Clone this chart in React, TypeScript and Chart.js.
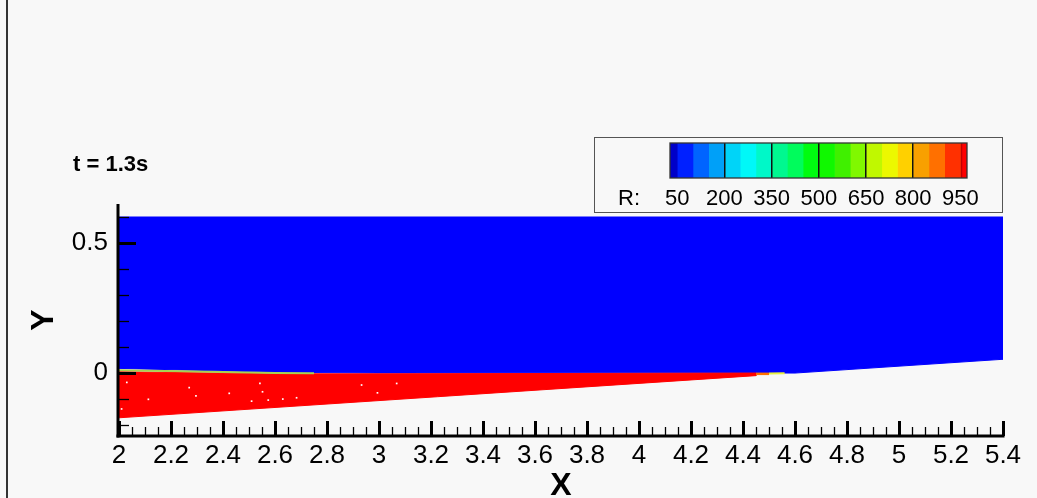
import React, { useEffect, useRef } from 'react';
import { Chart, registerables } from 'chart.js';

Chart.register(...registerables);

const FONT = "'Liberation Sans', Arial, Helvetica, sans-serif";

// Upper fluid (R ~ 50) region outline
const lightX = [2.0, 5.4, 5.4, 4.6, 4.0, 3.0, 2.6, 2.0];
const lightY = [0.6, 0.6, 0.053, 0.0, 0.001, 0.0, 0.003, 0.018];
// Lower fluid (R ~ 1000) region outline
const denseX = [2.0, 2.6, 3.0, 4.0, 4.45, 4.45, 2.0];
const denseY = [0.005, -0.003, -0.003, -0.001, 0.0, -0.0099, -0.172];
// Mixing layer along the interface
const mixX = [2.0, 2.3, 2.6, 2.75];
const mixY = [0.011, 0.006, 0.0, -0.001];
// Interface tip
const tipOrangeX = [4.45, 4.5];
const tipOrangeY = [-0.003, -0.003];
const tipYellowX = [4.5, 4.56];
const tipYellowY = [-0.002, -0.001];
// Small voids inside the dense region
const speckX = [2.03, 2.113, 2.01, 2.27, 2.296, 2.424, 2.51, 2.542, 2.552, 2.574, 2.63, 2.683, 2.933, 2.994, 3.068];
const speckY = [-0.036, -0.101, -0.138, -0.056, -0.088, -0.078, -0.108, -0.04, -0.072, -0.104, -0.1, -0.095, -0.046, -0.076, -0.04];

// Axes
const xTicks = [2, 2.2, 2.4, 2.6, 2.8, 3, 3.2, 3.4, 3.6, 3.8, 4, 4.2, 4.4, 4.6, 4.8, 5, 5.2, 5.4];
const yTicks = [0, 0.5];
const yMinorTicks = [-0.2, -0.1, 0.1, 0.2, 0.3, 0.4, 0.6];
const xRange = [2, 5.4];
const yRange = [-0.242, 0.65];

// Contour legend
const legendEdges = [27, 50, 100, 150, 200, 250, 300, 350, 400, 450, 500, 550, 600, 650, 700, 750, 800, 850, 900, 950, 955, 971];
const legendColors = [
  '#0000c8', '#0020ff', '#0064ff', '#00a0f8', '#00d4f8', '#00f8f8', '#00f8c8', '#00f890', '#00fc5c', '#00fc10',
  '#10f800', '#40f000', '#80f800', '#c0f800', '#ecf800', '#ffd000', '#f8a000', '#ff7000', '#ff3000', '#c00000', '#ff0000',
];
const legendTicks = [50, 200, 350, 500, 650, 800, 950];
const legendLines = [200, 350, 500, 650, 800];

const pts = (xs: number[], ys: number[]) => xs.map((x, i) => ({ x, y: ys[i] }));

const axesPlugin = {
  id: 'tecAxes',
  afterDatasetsDraw(chart: any) {
    const { ctx, chartArea: a, scales } = chart;
    const x = scales.x;
    const y = scales.y;
    const seg = (x1: number, y1: number, x2: number, y2: number, w: number) => {
      ctx.lineWidth = w;
      ctx.beginPath();
      ctx.moveTo(x1, y1);
      ctx.lineTo(x2, y2);
      ctx.stroke();
    };
    ctx.save();
    ctx.strokeStyle = '#000';
    ctx.lineCap = 'butt';
    for (let i = 0; i < xTicks.length - 1; i++) {
      const step = (xTicks[i + 1] - xTicks[i]) / 4;
      for (let k = 1; k < 4; k++) {
        const px = Math.round(x.getPixelForValue(xTicks[i] + k * step)) + 0.5;
        seg(px, a.bottom, px, a.bottom - 9, 1.3);
      }
    }
    xTicks.forEach((v) => {
      const px = Math.round(x.getPixelForValue(v)) + 0.5;
      seg(px, a.bottom, px, a.bottom - 15, 3);
    });
    yMinorTicks.forEach((v) => {
      const py = Math.round(y.getPixelForValue(v)) + 0.5;
      seg(a.left, py, a.left + 10, py, 1.3);
    });
    yTicks.forEach((v) => {
      const py = Math.round(y.getPixelForValue(v)) + 0.5;
      seg(a.left, py, a.left + 17, py, 3);
    });
    seg(a.left - 1, a.top, a.left - 1, a.bottom + 1.5, 3);
    seg(a.left - 2.5, a.bottom, a.right + 1.5, a.bottom, 3);
    ctx.restore();
  },
};

const outlinePlugin = {
  id: 'barOutline',
  afterDraw(chart: any) {
    const { ctx, chartArea: a } = chart;
    ctx.save();
    ctx.strokeStyle = '#333';
    ctx.lineWidth = 1.3;
    ctx.strokeRect(a.left, a.top, a.right - a.left, a.bottom - a.top);
    ctx.restore();
  },
};

export default function App() {
  const mainRef = useRef<HTMLCanvasElement>(null);
  const legRef = useRef<HTMLCanvasElement>(null);

  useEffect(() => {
    document.body.style.margin = '0';
    document.body.style.background = '#f8f8f8';
    Chart.defaults.font.family = FONT;
    Chart.defaults.color = '#000';

    const polygon = (data: any[], color: string, order: number) => ({
      type: 'line',
      data,
      borderColor: color,
      backgroundColor: color,
      borderWidth: 1,
      pointRadius: 0,
      fill: 'shape',
      tension: 0,
      order,
    });
    const strip = (data: any[], color: string, width: number, order: number) => ({
      type: 'line',
      data,
      borderColor: color,
      borderWidth: width,
      pointRadius: 0,
      fill: false,
      tension: 0,
      order,
    });

    const main = new Chart(mainRef.current as HTMLCanvasElement, {
      type: 'line',
      data: {
        datasets: [
          {
            type: 'line',
            data: pts(speckX, speckY),
            showLine: false,
            pointRadius: 1.2,
            pointStyle: 'rect',
            pointBackgroundColor: '#ffffff',
            pointBorderWidth: 0,
            order: 0,
          } as any,
          strip(pts(mixX, mixY), '#a8d050', 2, 1) as any,
          strip(pts(tipOrangeX, tipOrangeY), '#ff7000', 2.5, 1) as any,
          strip(pts(tipYellowX, tipYellowY), '#e8f040', 2, 1) as any,
          polygon(pts(denseX, denseY), '#ff0000', 2) as any,
          polygon(pts(lightX, lightY), '#0000ff', 3) as any,
        ],
      },
      options: {
        animation: false,
        responsive: false,
        devicePixelRatio: 1,
        layout: { padding: { top: 204, right: 34, bottom: 0, left: 0 } },
        plugins: { legend: { display: false }, tooltip: { enabled: false } },
        scales: {
          x: {
            type: 'linear',
            min: xRange[0],
            max: xRange[1],
            afterBuildTicks: (s: any) => {
              s.ticks = xTicks.map((v) => ({ value: v }));
            },
            ticks: {
              font: { size: 26 },
              color: '#000',
              padding: 4,
              maxRotation: 0,
              autoSkip: false,
              callback: (v: any) => String(v),
            },
            grid: { display: false, drawTicks: false },
            border: { display: false },
            title: {
              display: true,
              text: 'X',
              color: '#000',
              font: { size: 32, weight: 'bold', lineHeight: 1 },
              padding: { top: 0, bottom: -4 },
            },
            afterFit: (s: any) => {
              s.height = 62;
              s.paddingLeft = 0;
              s.paddingRight = 0;
            },
          },
          y: {
            type: 'linear',
            min: yRange[0],
            max: yRange[1],
            afterBuildTicks: (s: any) => {
              s.ticks = yTicks.map((v) => ({ value: v }));
            },
            ticks: {
              font: { size: 26 },
              color: '#000',
              padding: 11,
              callback: (v: any) => String(v),
            },
            grid: { display: false, drawTicks: false },
            border: { display: false },
            title: {
              display: true,
              text: 'Y',
              color: '#000',
              font: { size: 32, weight: 'bold', lineHeight: 1.2 },
              padding: { top: 25, bottom: 0 },
            },
            afterFit: (s: any) => {
              s.width = 119;
              s.paddingTop = 0;
              s.paddingBottom = 0;
            },
          },
        },
      },
      plugins: [axesPlugin],
    } as any);

    const legend = new Chart(legRef.current as HTMLCanvasElement, {
      type: 'bar',
      data: {
        labels: ['R'],
        datasets: legendColors.map((c, i) => ({
          data: [[legendEdges[i], legendEdges[i + 1]]],
          backgroundColor: c,
          borderWidth: 0,
          grouped: false,
          barPercentage: 1,
          categoryPercentage: 1,
        })),
      },
      options: {
        indexAxis: 'y',
        animation: false,
        responsive: false,
        devicePixelRatio: 1,
        layout: { padding: { top: 6, right: 36, bottom: 0, left: 76 } },
        plugins: { legend: { display: false }, tooltip: { enabled: false } },
        scales: {
          y: { type: 'category', display: false },
          x: {
            type: 'linear',
            min: legendEdges[0],
            max: legendEdges[legendEdges.length - 1],
            afterBuildTicks: (s: any) => {
              s.ticks = legendTicks.map((v) => ({ value: v }));
            },
            ticks: {
              font: { size: 22 },
              color: '#000',
              padding: 8,
              maxRotation: 0,
              autoSkip: false,
              callback: (v: any) => String(v),
            },
            grid: {
              z: 1,
              drawTicks: false,
              lineWidth: 1.5,
              color: (ctx: any) =>
                ctx.tick && legendLines.includes(ctx.tick.value) ? '#111' : 'rgba(0,0,0,0)',
            },
            border: { display: false },
            afterFit: (s: any) => {
              s.height = 34;
              s.paddingLeft = 0;
              s.paddingRight = 0;
            },
          },
        },
      },
      plugins: [outlinePlugin],
    } as any);

    return () => {
      main.destroy();
      legend.destroy();
    };
  }, []);

  return (
    <div
      style={{
        position: 'fixed',
        left: 0,
        top: 0,
        width: 1037,
        height: 498,
        background: '#f8f8f8',
        fontFamily: FONT,
        overflow: 'hidden',
      }}
    >
      <canvas ref={mainRef} width={1037} height={498} style={{ position: 'absolute', left: 0, top: 0 }} />
      <div style={{ position: 'absolute', left: 6, top: 0, width: 2, height: 498, background: '#333' }} />
      <div
        style={{
          position: 'absolute',
          left: 73,
          top: 153,
          fontSize: 22,
          lineHeight: '22px',
          fontWeight: 'bold',
          color: '#000',
          whiteSpace: 'nowrap',
        }}
      >
        t = 1.3s
      </div>
      <div
        style={{
          position: 'absolute',
          left: 594,
          top: 137,
          width: 409,
          height: 76,
          boxSizing: 'border-box',
          border: '1.3px solid #555',
        }}
      />
      <canvas ref={legRef} width={409} height={75} style={{ position: 'absolute', left: 594, top: 137 }} />
      <div
        style={{
          position: 'absolute',
          left: 618,
          top: 187,
          fontSize: 22,
          lineHeight: '22px',
          color: '#000',
          whiteSpace: 'nowrap',
        }}
      >
        R:
      </div>
    </div>
  );
}
